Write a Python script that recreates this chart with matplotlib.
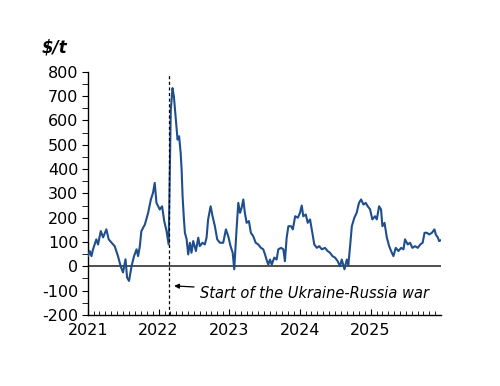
import matplotlib
matplotlib.use("Agg")
import matplotlib.pyplot as plt
import matplotlib.dates as mdates
from matplotlib.ticker import MultipleLocator
import pandas as pd

plt.rcParams["axes.unicode_minus"] = False

# Dữ liệu ($/t)
dates = [
    "2021-01-01", "2021-01-10", "2021-01-19", "2021-01-27", "2021-02-13", "2021-02-22",
    "2021-03-08", "2021-03-20", "2021-04-06", "2021-04-18", "2021-05-02", "2021-05-19",
    "2021-06-05", "2021-06-19", "2021-07-01", "2021-07-14", "2021-07-22", "2021-08-01",
    "2021-08-14", "2021-08-27", "2021-09-09", "2021-09-17", "2021-09-26", "2021-10-04",
    "2021-10-22", "2021-11-08", "2021-11-22", "2021-12-03", "2021-12-12", "2021-12-21",
    "2022-01-07", "2022-01-19", "2022-01-30", "2022-02-11", "2022-02-22",
    "2022-02-28", "2022-03-05", "2022-03-14", "2022-03-21", "2022-03-31", "2022-04-09",
    "2022-04-17", "2022-04-25", "2022-04-30", "2022-05-05", "2022-05-12", "2022-05-17",
    "2022-05-26", "2022-06-03", "2022-06-12", "2022-06-20", "2022-06-29", "2022-07-13",
    "2022-07-25", "2022-08-02", "2022-08-16", "2022-08-28", "2022-09-06", "2022-09-14",
    "2022-09-27", "2022-10-07", "2022-10-19", "2022-10-31", "2022-11-14", "2022-12-01",
    "2022-12-15", "2022-12-27",
    "2023-01-08", "2023-01-19", "2023-01-27", "2023-02-08", "2023-02-17", "2023-02-26",
    "2023-03-06", "2023-03-15", "2023-03-23", "2023-04-01", "2023-04-13", "2023-04-23",
    "2023-05-05", "2023-05-18", "2023-05-31", "2023-06-14", "2023-06-26", "2023-07-05",
    "2023-07-13", "2023-07-22", "2023-07-31", "2023-08-09", "2023-08-22", "2023-09-03",
    "2023-09-12", "2023-09-26", "2023-10-08", "2023-10-16", "2023-10-25", "2023-11-03",
    "2023-11-17", "2023-11-26", "2023-12-08", "2023-12-22",
    "2024-01-02", "2024-01-11", "2024-01-19", "2024-02-01", "2024-02-11", "2024-02-23",
    "2024-03-06", "2024-03-16", "2024-03-29", "2024-04-10", "2024-04-24", "2024-05-10",
    "2024-05-24", "2024-06-05", "2024-06-18", "2024-07-01", "2024-07-15", "2024-07-27",
    "2024-08-05", "2024-08-19", "2024-08-31", "2024-09-08", "2024-09-17", "2024-09-26",
    "2024-10-09", "2024-10-21", "2024-11-02", "2024-11-13", "2024-11-25", "2024-12-07",
    "2024-12-17", "2024-12-29",
    "2025-01-10", "2025-01-24", "2025-02-02", "2025-02-14", "2025-02-24", "2025-03-03",
    "2025-03-14", "2025-03-26", "2025-04-07", "2025-04-17", "2025-04-29", "2025-05-11",
    "2025-05-25", "2025-06-08", "2025-06-20", "2025-06-28", "2025-07-12", "2025-07-24",
    "2025-08-05", "2025-08-19", "2025-09-02", "2025-09-15", "2025-09-27", "2025-10-07",
    "2025-10-19", "2025-10-31", "2025-11-14", "2025-11-27", "2025-12-04", "2025-12-15",
    "2025-12-21", "2025-12-29",
]
values = [
    42, 63, 42, 70, 111, 90,
    145, 119, 152, 111, 98, 83,
    42, 0, -25, 29, -46, -60,
    0, 42, 70, 42, 83, 145,
    172, 220, 275, 302, 343, 261,
    234, 247, 186, 145, 90,
    398, 644, 733, 699, 603, 521,
    535, 467, 398, 288, 193, 138,
    111, 49, 97, 56, 104, 63,
    118, 83, 97, 90, 118, 193,
    247, 206, 165, 111, 97, 97,
    152, 124,
    83, 56, -12, 152, 261, 220,
    240, 275, 220, 179, 186, 138,
    124, 97, 90, 76, 70, 49,
    28, 7, 28, 7, 36, 28,
    70, 76, 70, 21, 118, 165,
    165, 152, 206, 200,
    220, 250, 206, 213, 179, 193,
    138, 90, 76, 83, 70, 76,
    63, 56, 42, 36, 21, 0,
    28, -12, 28, 7, 83, 165,
    200, 220, 261, 275, 254, 261,
    247, 235,
    193, 206, 193, 247, 234, 165,
    179, 118, 83, 63, 42, 76,
    63, 76, 70, 111, 90, 97,
    76, 83, 76, 90, 97, 138,
    138, 131, 138, 152, 131, 118,
    104, 107,
]
war_date = "2022-02-24"

x = pd.to_datetime(dates)

fig = plt.figure(figsize=(5, 3.86), dpi=100)
ax = fig.add_axes([0.176, 0.184, 0.706, 0.63])

ax.plot(x, values, color="#1f4e8c", linewidth=1.5, zorder=3)
ax.axhline(0, color="#404040", linewidth=1.3, zorder=2)
ax.axvline(pd.Timestamp(war_date), color="black", linestyle=(0, (2.5, 2)), linewidth=0.9, ymax=0.985, zorder=4)

ax.annotate("Start of the Ukraine-Russia war",
            xy=(pd.Timestamp(war_date) + pd.Timedelta(days=12), -80),
            xytext=(pd.Timestamp("2022-08-01"), -110),
            fontsize=10.5, style="italic", va="center", ha="left",
            arrowprops=dict(arrowstyle="-|>", color="black", lw=0.9, mutation_scale=7))

ax.set_ylim(-200, 800)
ax.set_xlim(pd.Timestamp("2021-01-01"), pd.Timestamp("2025-12-31"))
ax.yaxis.set_major_locator(MultipleLocator(100))
ax.yaxis.set_minor_locator(MultipleLocator(50))
ax.xaxis.set_major_locator(mdates.YearLocator())
ax.xaxis.set_minor_locator(mdates.MonthLocator())
ax.xaxis.set_major_formatter(mdates.DateFormatter("%Y"))

ax.spines["top"].set_visible(False)
ax.spines["right"].set_visible(False)
ax.spines["left"].set_linewidth(1.0)
ax.spines["bottom"].set_linewidth(1.0)

ax.tick_params(axis="y", which="major", direction="out", length=4, labelsize=11.5, pad=3)
ax.tick_params(axis="y", which="minor", direction="out", length=4)
ax.tick_params(axis="x", which="major", direction="in", length=4, labelsize=11.5, pad=6)
ax.tick_params(axis="x", which="minor", direction="in", length=3)

fig.text(0.084, 0.865, r"\$/t", fontsize=12, fontweight="bold", style="italic")

fig.savefig("out.png", dpi=100)
